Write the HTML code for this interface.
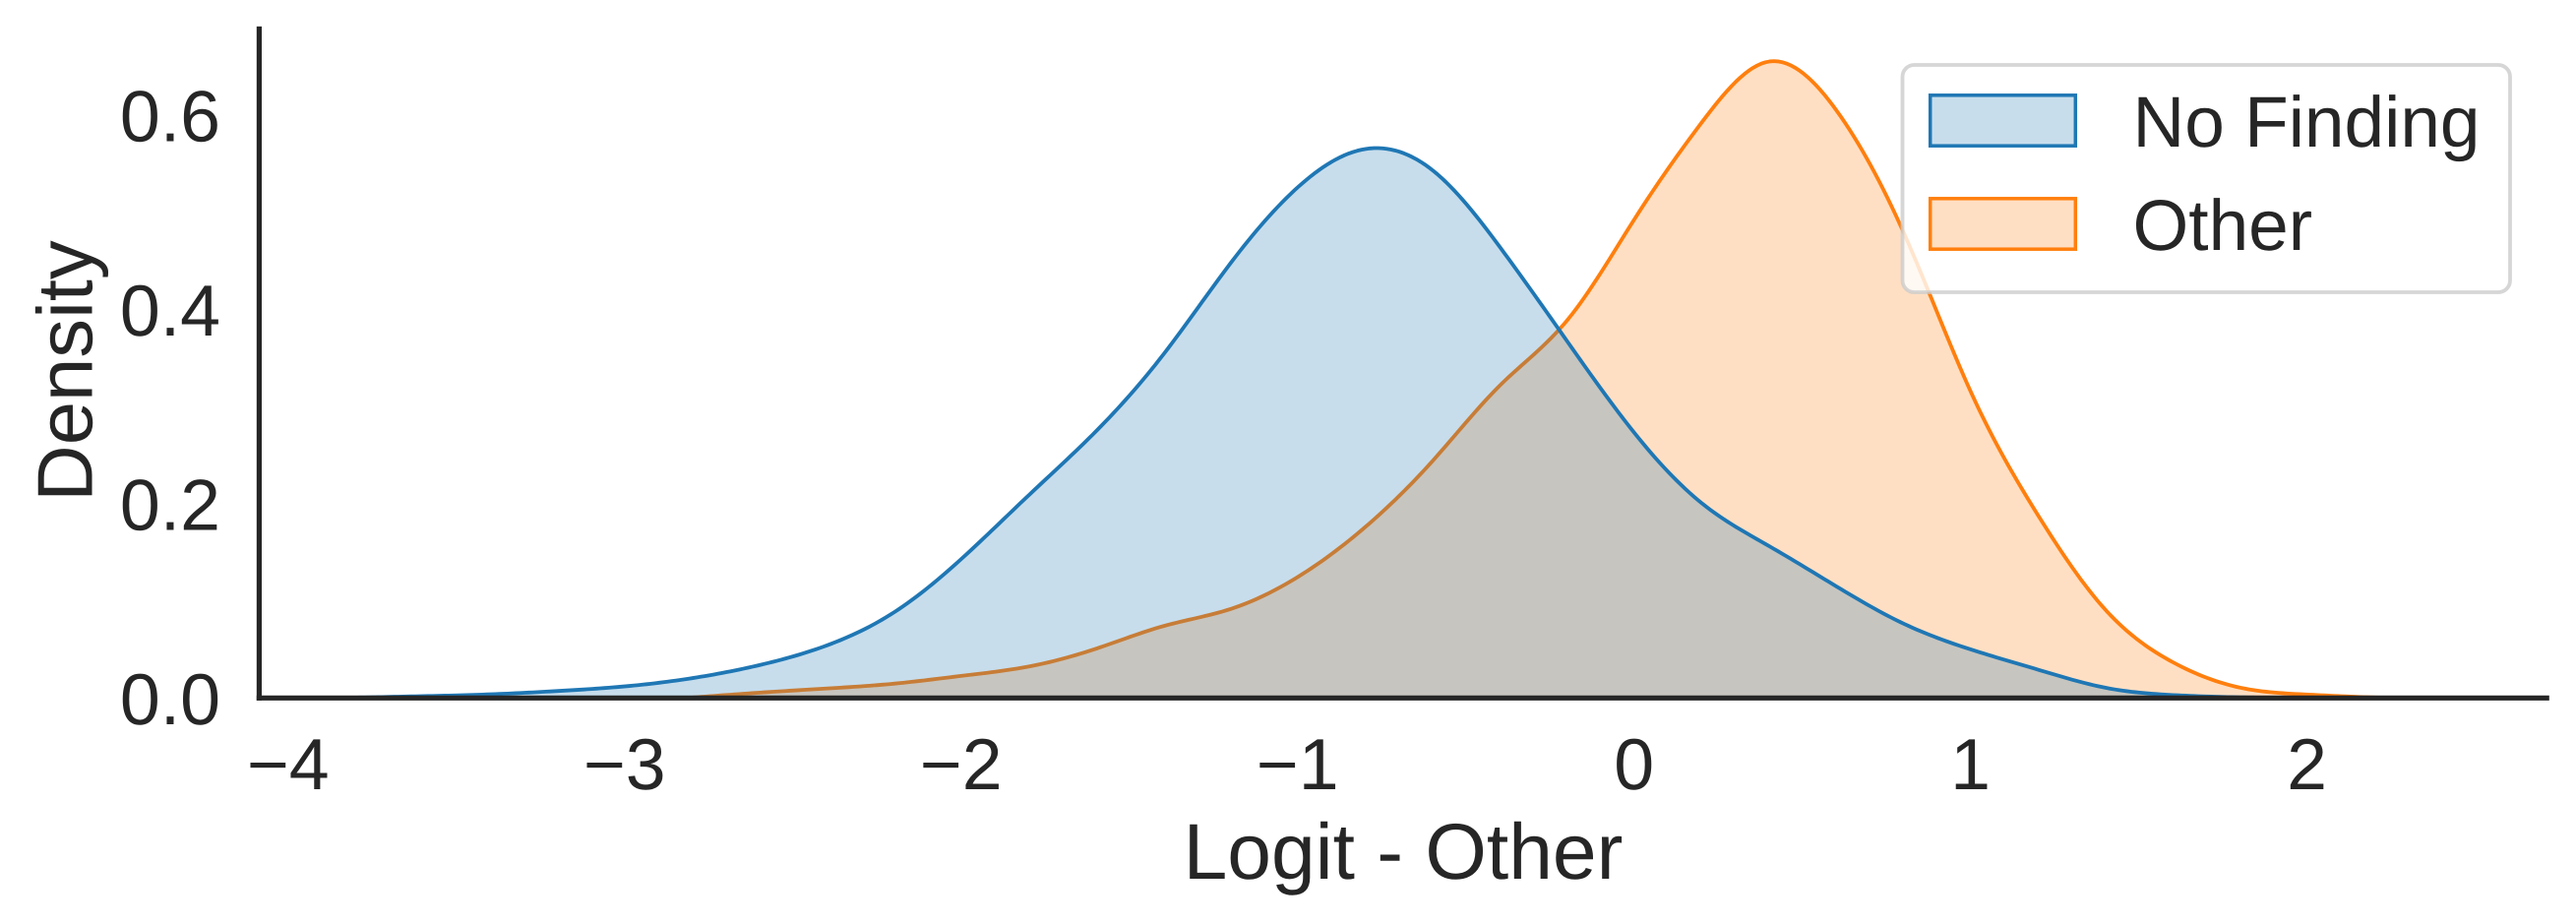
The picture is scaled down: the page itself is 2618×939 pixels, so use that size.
<!DOCTYPE html>
<html lang="en">
<head>
<meta charset="utf-8">
<title>Logit - Other density</title>
<style>
html,body{margin:0;padding:0;background:#fff;width:2618px;height:939px;overflow:hidden}
svg{display:block}
text{font-family:"Liberation Sans",Arial,sans-serif;fill:#262626;text-rendering:geometricPrecision}
</style>
</head>
<body>
<svg id="chart" xmlns="http://www.w3.org/2000/svg" width="2618" height="939" viewBox="0 0 2618 939">
  <rect x="0" y="0" width="2618" height="939" fill="#ffffff"/>
  <g id="series">
    <path id="other-fill" fill="#ff7f0e" fill-opacity="0.25" stroke="none"/>
    <path id="other-line" fill="none" stroke="#ff7f0e" stroke-width="3.8" stroke-linejoin="round"/>
    <path id="nofinding-fill" fill="#1f77b4" fill-opacity="0.25" stroke="none"/>
    <path id="nofinding-line" fill="none" stroke="#1f77b4" stroke-width="3.8" stroke-linejoin="round"/>
  </g>
  <line id="y-spine" stroke="#262626" stroke-width="5.2"/>
  <line id="x-spine" stroke="#262626" stroke-width="5.2"/>
  <g id="x-ticks"></g>
  <g id="y-ticks"></g>
  <text x="1426" y="893" font-size="80.4" text-anchor="middle">Logit - Other</text>
  <text transform="translate(93.5 377) rotate(-90)" font-size="79.6" text-anchor="middle">Density</text>
  <g>
    <rect x="1933.5" y="66" width="617.5" height="231" rx="12" ry="12" fill="#ffffff" fill-opacity="0.8" stroke="#cccccc" stroke-opacity="0.8" stroke-width="3.8"/>
    <rect x="1961.7" y="96.8" width="147.6" height="51.4" fill="#1f77b4" fill-opacity="0.25" stroke="#1f77b4" stroke-width="3.5"/>
    <text x="2167.5" y="149" font-size="73">No Finding</text>
    <rect x="1961.7" y="201.8" width="147.6" height="51.4" fill="#ff7f0e" fill-opacity="0.25" stroke="#ff7f0e" stroke-width="3.5"/>
    <text x="2167.5" y="254" font-size="73">Other</text>
  </g>
</svg>
<script>
const xTickValues = [-4, -3, -2, -1, 0, 1, 2];
const xTickLabels = ["\u22124", "\u22123", "\u22122", "\u22121", "0", "1", "2"];
const yTickValues = [0, 0.2, 0.4, 0.6];
const yTickLabels = ["0.0", "0.2", "0.4", "0.6"];
const xDomain = [-4.0888, 2.717];
const yDomain = [0, 0.691];

const noFindingX = [-3.8, -3.6, -3.4, -3.2, -3.0, -2.8, -2.6, -2.4, -2.2, -2.0, -1.8, -1.6, -1.4, -1.2, -1.0, -0.8, -0.6, -0.4, -0.2, 0, 0.2, 0.4, 0.6, 0.8, 1.0, 1.2, 1.4, 1.6, 1.8, 2.0];
const noFindingDensity = [0.0004, 0.0019, 0.0038, 0.0072, 0.012, 0.0205, 0.034, 0.0543, 0.0886, 0.1437, 0.2092, 0.2751, 0.3542, 0.4483, 0.5262, 0.565, 0.5426, 0.4633, 0.3663, 0.272, 0.2, 0.156, 0.1145, 0.0762, 0.0497, 0.0289, 0.0104, 0.003, 0.0007, 0];

const otherX = [-2.8, -2.6, -2.4, -2.2, -2.0, -1.8, -1.6, -1.4, -1.2, -1.0, -0.8, -0.6, -0.4, -0.2, 0, 0.2, 0.4, 0.6, 0.8, 1.0, 1.2, 1.4, 1.6, 1.8, 2.0, 2.2, 2.4];
const otherDensity = [0.0005, 0.0055, 0.0098, 0.0148, 0.0228, 0.0325, 0.0509, 0.0741, 0.0918, 0.125, 0.1764, 0.2445, 0.3221, 0.3893, 0.4936, 0.593, 0.655, 0.604, 0.4777, 0.3135, 0.1868, 0.09, 0.0365, 0.0105, 0.0035, 0.0005, 0];

const plotLeft = 263.4, plotRight = 2590.8, plotBottom = 709.3, plotTop = 26.9;
function xScale(v) { return plotLeft + (v - xDomain[0]) / (xDomain[1] - xDomain[0]) * (plotRight - plotLeft); }
function yScale(v) { return plotBottom - (v - yDomain[0]) / (yDomain[1] - yDomain[0]) * (plotBottom - plotTop); }

/* natural cubic spline through the read values, so the KDE outline stays smooth */
function splineCurve(xs, ys) {
  const n = xs.length, m = new Array(n).fill(0), u = new Array(n).fill(0);
  for (let i = 1; i < n - 1; i++) {
    const s = (xs[i] - xs[i - 1]) / (xs[i + 1] - xs[i - 1]);
    const p = s * m[i - 1] + 2;
    m[i] = (s - 1) / p;
    const d = (ys[i + 1] - ys[i]) / (xs[i + 1] - xs[i]) - (ys[i] - ys[i - 1]) / (xs[i] - xs[i - 1]);
    u[i] = (6 * d / (xs[i + 1] - xs[i - 1]) - s * u[i - 1]) / p;
  }
  for (let k = n - 2; k >= 0; k--) m[k] = m[k] * m[k + 1] + u[k];
  const pts = [];
  for (let i = 0; i < n - 1; i++) {
    const h = xs[i + 1] - xs[i];
    for (let j = 0; j < 16; j++) {
      const t = j / 16, a = 1 - t;
      const v = a * ys[i] + t * ys[i + 1] + ((a * a * a - a) * m[i] + (t * t * t - t) * m[i + 1]) * h * h / 6;
      pts.push([xScale(xs[i] + t * h), yScale(Math.max(v, 0))]);
    }
  }
  pts.push([xScale(xs[n - 1]), yScale(Math.max(ys[n - 1], 0))]);
  return pts;
}
function linePath(xs, ys) {
  return splineCurve(xs, ys).map((p, i) => (i ? "L" : "M") + p[0].toFixed(2) + " " + p[1].toFixed(2)).join("");
}
function closedPath(xs, ys) {
  return linePath(xs, ys) + "L" + xScale(xs[xs.length - 1]).toFixed(2) + " " + yScale(0).toFixed(2) + "L" + xScale(xs[0]).toFixed(2) + " " + yScale(0).toFixed(2) + "Z";
}

document.getElementById("other-fill").setAttribute("d", closedPath(otherX, otherDensity));
document.getElementById("other-line").setAttribute("d", linePath(otherX, otherDensity));
document.getElementById("nofinding-fill").setAttribute("d", closedPath(noFindingX, noFindingDensity));
document.getElementById("nofinding-line").setAttribute("d", linePath(noFindingX, noFindingDensity));

const ySpine = document.getElementById("y-spine");
ySpine.setAttribute("x1", plotLeft);
ySpine.setAttribute("x2", plotLeft);
ySpine.setAttribute("y1", plotTop);
ySpine.setAttribute("y2", plotBottom + 2.6);
const xSpine = document.getElementById("x-spine");
xSpine.setAttribute("x1", plotLeft - 2.6);
xSpine.setAttribute("x2", plotRight);
xSpine.setAttribute("y1", plotBottom);
xSpine.setAttribute("y2", plotBottom);

const SVG_NS = "http://www.w3.org/2000/svg";
const xTickGroup = document.getElementById("x-ticks");
xTickValues.forEach((v, i) => {
  const t = document.createElementNS(SVG_NS, "text");
  
  
  t.setAttribute("x", xScale(v) - 1);
  t.setAttribute("y", 802);
  t.setAttribute("font-size", 73.5);
  t.setAttribute("text-anchor", "middle");
  t.textContent = xTickLabels[i];
  xTickGroup.appendChild(t);
});
const yTickGroup = document.getElementById("y-ticks");
yTickValues.forEach((v, i) => {
  const t = document.createElementNS(SVG_NS, "text");
  
  
  t.setAttribute("x", 224);
  t.setAttribute("y", yScale(v) + 26.5);
  t.setAttribute("font-size", 73.5);
  t.setAttribute("text-anchor", "end");
  t.textContent = yTickLabels[i];
  yTickGroup.appendChild(t);
});
</script>
</body>
</html>
